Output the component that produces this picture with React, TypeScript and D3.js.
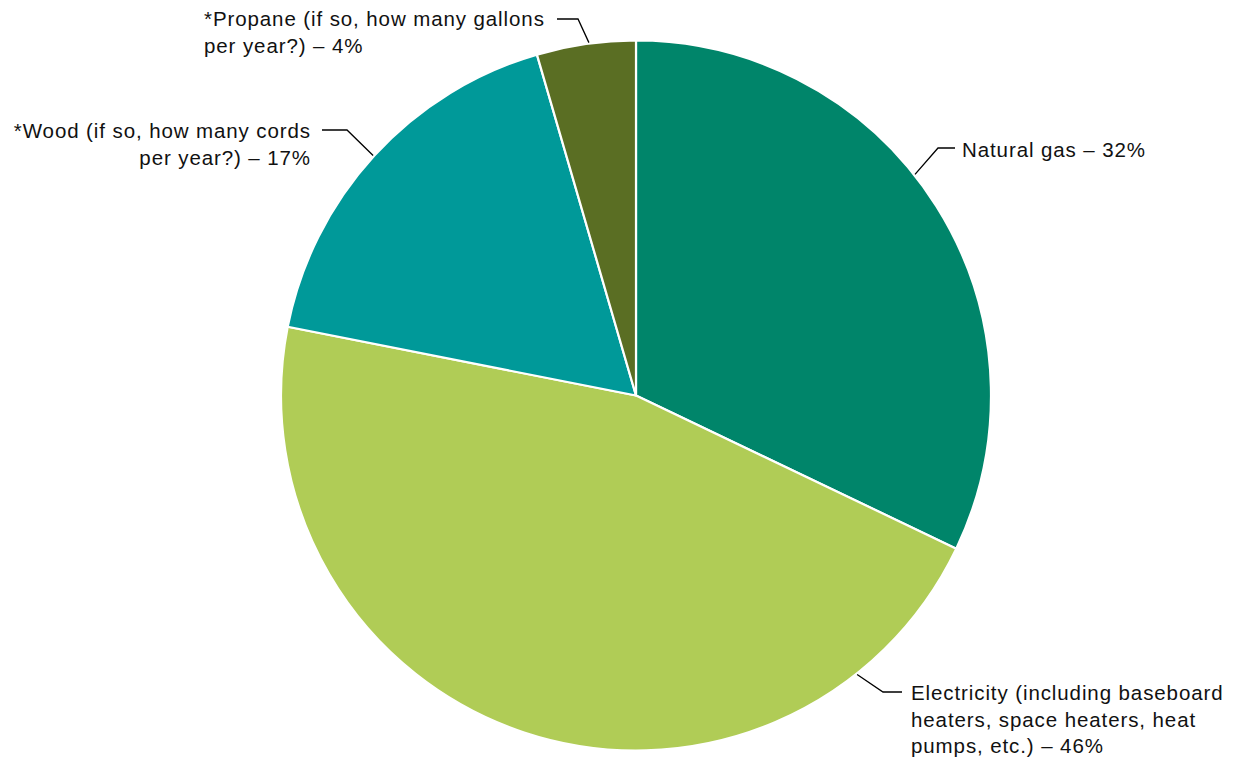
import React from "react";
import * as d3 from "d3";

const categories = [
  "Natural gas",
  "Electricity (including baseboard heaters, space heaters, heat pumps, etc.)",
  "*Wood (if so, how many cords per year?)",
  "*Propane (if so, how many gallons per year?)",
];
const values = [32.1, 46.0, 17.4, 4.5];
const displayPct = ["32%", "46%", "17%", "4%"];
const colors = ["#00856A", "#B0CC56", "#009999", "#5A6E23"];

// label text lines (broken as in the reference)
const labelLines = [
  ["Natural gas – 32%"],
  ["Electricity (including baseboard", "heaters, space heaters, heat", "pumps, etc.) – 46%"],
  ["*Wood (if so, how many cords", "per year?) – 17%"],
  ["*Propane (if so, how many gallons", "per year?) – 4%"],
];

const W = 1236;
const H = 761;
const cx = 636;
const cy = 395.5;
const R = 355;

// layout of labels: leader angle on rim (deg clockwise from top), elbow, end of horizontal, text anchor
const labelLayout = [
  { angle: 51.6, elbow: [938, 148], end: [955, 148], tx: 962, ty: 157, anchor: "start" },
  { angle: 141.6, elbow: [883, 692], end: [902, 692], tx: 911, ty: 700, anchor: "start" },
  { angle: 312.4, elbow: [347, 130], end: [322, 130], tx: 311, ty: 138, anchor: "end" },
  { angle: 352.4, elbow: [578, 19], end: [557, 19], tx: 204, ty: 26, anchor: "start" },
];

export default function App() {
  const data = categories.map((c, i) => ({ name: c, value: values[i], color: colors[i], pct: displayPct[i] }));
  const pie = d3.pie<any>().value((d) => d.value).sort(null).startAngle(0).endAngle(2 * Math.PI);
  const arcs = pie(data);
  const arc = d3.arc<any>().innerRadius(0).outerRadius(R);
  const lineH = 26.5;

  return (
    <svg
      width={W}
      height={H}
      viewBox={`0 0 ${W} ${H}`}
      style={{ position: "absolute", left: 0, top: 0, display: "block", background: "#fff" }}
    >
      <g transform={`translate(${cx},${cy})`}>
        {arcs.map((a, i) => (
          <path key={i} d={arc(a) || ""} fill={a.data.color} stroke="#fff" strokeWidth={2.2} strokeLinejoin="round" />
        ))}
      </g>
      {labelLayout.map((l, i) => {
        const rad = (l.angle * Math.PI) / 180;
        const sx = cx + (R + 1) * Math.sin(rad);
        const sy = cy - (R + 1) * Math.cos(rad);
        const path = d3.line()([
          [sx, sy],
          l.elbow as [number, number],
          l.end as [number, number],
        ]);
        return (
          <g key={i}>
            <path d={path || ""} fill="none" stroke="#000" strokeWidth={1.3} />
            <text
              x={l.tx}
              y={l.ty}
              textAnchor={l.anchor as any}
              fontFamily="'Liberation Sans', Arial, sans-serif"
              fontSize={20.5}
              letterSpacing={0.9}
              fill="#111"
            >
              {labelLines[i].map((t, j) => (
                <tspan key={j} x={l.tx} y={l.ty + j * lineH}>
                  {t}
                </tspan>
              ))}
            </text>
          </g>
        );
      })}
    </svg>
  );
}
